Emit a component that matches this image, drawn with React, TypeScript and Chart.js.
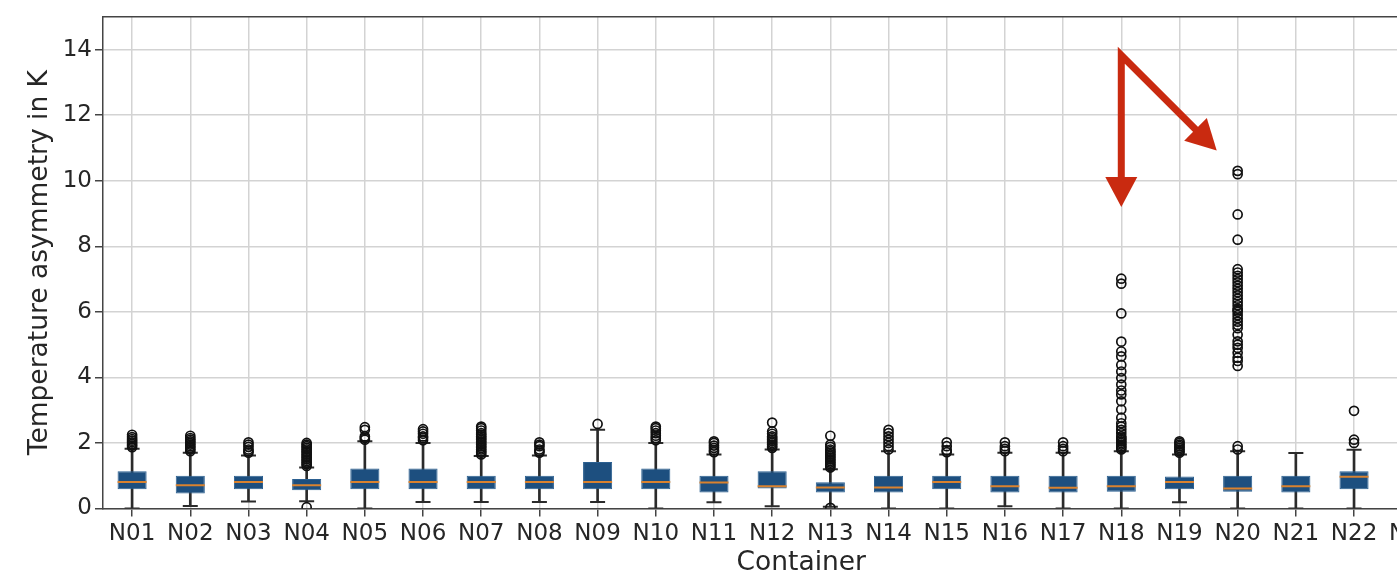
import React, { useEffect, useRef } from 'react';
import { Chart, registerables } from 'chart.js';

Chart.register(...registerables);

// ---------- data ----------
const categories = [
  'N01', 'N02', 'N03', 'N04', 'N05', 'N06', 'N07', 'N08', 'N09', 'N10', 'N11', 'N12',
  'N13', 'N14', 'N15', 'N16', 'N17', 'N18', 'N19', 'N20', 'N21', 'N22', 'N23', 'N24',
];

const q1Values = [0.59, 0.46, 0.59, 0.56, 0.59, 0.59, 0.59, 0.59, 0.59, 0.59, 0.49, 0.61,
  0.49, 0.49, 0.59, 0.49, 0.49, 0.51, 0.59, 0.51, 0.49, 0.59, 0.6, 0.55];
const medianValues = [0.81, 0.71, 0.81, 0.71, 0.81, 0.81, 0.81, 0.81, 0.81, 0.81, 0.79, 0.68,
  0.64, 0.64, 0.81, 0.68, 0.63, 0.68, 0.81, 0.61, 0.68, 0.97, 0.8, 0.72];
const q3Values = [1.14, 1.0, 1.0, 0.9, 1.22, 1.22, 1.0, 1.0, 1.42, 1.22, 1.0, 1.14,
  0.8, 1.0, 1.0, 1.0, 1.0, 1.0, 0.98, 1.0, 1.0, 1.14, 1.05, 1.0];
const whiskerLowValues = [0.0, 0.08, 0.21, 0.22, 0.0, 0.2, 0.2, 0.2, 0.2, 0.0, 0.19, 0.07,
  0.05, 0.0, 0.0, 0.07, 0.0, 0.0, 0.19, 0.0, 0.0, 0.0, 0.0, 0.0];
const whiskerHighValues = [1.82, 1.7, 1.62, 1.25, 2.05, 2.0, 1.6, 1.62, 2.4, 2.0, 1.65, 1.8,
  1.2, 1.75, 1.65, 1.7, 1.7, 1.75, 1.65, 1.75, 1.69, 1.79, 1.7, 1.65];

const outliersN01 = [1.87, 1.92, 1.97, 2.02, 2.07, 2.12, 2.18, 2.25];
const outliersN02 = [1.75, 1.8, 1.85, 1.9, 1.95, 2.0, 2.05, 2.1, 2.15, 2.22];
const outliersN03 = [1.7, 1.75, 1.8, 1.88, 1.95, 2.02];
const outliersN04 = [0.04, 1.3, 1.35, 1.4, 1.45, 1.5, 1.55, 1.6, 1.65, 1.7, 1.75, 1.8, 1.85, 1.9, 1.95, 2.0];
const outliersN05 = [2.1, 2.15, 2.2, 2.4, 2.48];
const outliersN06 = [2.08, 2.15, 2.2, 2.28, 2.35, 2.42];
const outliersN07 = [1.65, 1.7, 1.75, 1.8, 1.85, 1.9, 1.95, 2.0, 2.05, 2.1, 2.15, 2.2, 2.25, 2.3, 2.38, 2.45, 2.5];
const outliersN08 = [1.7, 1.75, 1.8, 1.9, 1.95, 2.02];
const outliersN09 = [2.58];
const outliersN10 = [2.08, 2.15, 2.22, 2.3, 2.38, 2.45, 2.5];
const outliersN11 = [1.72, 1.78, 1.85, 1.92, 2.0, 2.05];
const outliersN12 = [1.85, 1.9, 1.95, 2.0, 2.05, 2.1, 2.15, 2.2, 2.28, 2.35, 2.62];
const outliersN13 = [0.02, 1.25, 1.3, 1.35, 1.4, 1.45, 1.5, 1.55, 1.6, 1.65, 1.7, 1.75, 1.8, 1.88, 1.95, 2.22];
const outliersN14 = [1.8, 1.9, 2.0, 2.1, 2.2, 2.3, 2.4];
const outliersN15 = [1.72, 1.78, 1.9, 2.02];
const outliersN16 = [1.75, 1.82, 1.9, 2.02];
const outliersN17 = [1.75, 1.82, 1.9, 2.02];
const outliersN18 = [1.8, 1.85, 1.9, 1.95, 2.0, 2.05, 2.1, 2.15, 2.2, 2.3, 2.4, 2.5, 2.6, 2.77,
  3.02, 3.27, 3.48, 3.6, 3.78, 3.98, 4.18, 4.38, 4.64, 4.79, 5.09, 5.95, 6.86, 7.01];
const outliersN19 = [1.7, 1.75, 1.8, 1.85, 1.9, 1.95, 2.0, 2.05];
const outliersN20 = [1.8, 1.9, 4.35, 4.5, 4.6, 4.75, 4.9, 5.0, 5.1, 5.3, 5.5, 5.6, 5.7, 5.8, 5.9,
  6.0, 6.05, 6.1, 6.2, 6.3, 6.4, 6.5, 6.6, 6.7, 6.8, 6.9, 7.0, 7.1, 7.2, 7.3, 8.2, 8.97, 10.2, 10.3];
const outliersN21: number[] = [];
const outliersN22 = [2.0, 2.1, 2.98];
const outliersN23: number[] = [];
const outliersN24: number[] = [];

const outlierValues = [
  outliersN01, outliersN02, outliersN03, outliersN04, outliersN05, outliersN06, outliersN07,
  outliersN08, outliersN09, outliersN10, outliersN11, outliersN12, outliersN13, outliersN14,
  outliersN15, outliersN16, outliersN17, outliersN18, outliersN19, outliersN20, outliersN21,
  outliersN22, outliersN23, outliersN24,
];

// red annotation arrows (data coordinates: category index, value)
const arrowOrigin = [17, 13.83];
const arrowTargetX = [17, 18.64];
const arrowTargetY = [9.2, 10.92];

const yMin = 0;
const yMax = 15;
const yStep = 2;

// ---------- styles ----------
const TEXT = '#262626';
const AXIS = '#444444';
const GRID = '#d3d3d3';
const BOX_FILL = '#1d4f7f';
const BOX_EDGE = '#2c6091';
const MEDIAN = '#d9822f';
const WHISKER = '#2b2b2b';
const ARROW = '#c92a10';

const framePlugin = {
  id: 'frameAndArrows',
  afterDatasetsDraw(chart: any) {
    const { ctx, chartArea, scales } = chart;
    const x = scales.x;
    const y = scales.y;
    ctx.save();
    // top spine
    ctx.strokeStyle = AXIS;
    ctx.lineWidth = 1.5;
    ctx.beginPath();
    ctx.moveTo(chartArea.left, chartArea.top);
    ctx.lineTo(chartArea.right, chartArea.top);
    ctx.stroke();

    // arrows
    const sx = x.getPixelForValue(arrowOrigin[0]);
    const sy = y.getPixelForValue(arrowOrigin[1]);
    const headLen = 30;
    const headHalf = 16;
    const bases: number[][] = [];
    const heads: number[][][] = [];
    for (let i = 0; i < arrowTargetX.length; i++) {
      const tx = x.getPixelForValue(arrowTargetX[i]);
      const ty = y.getPixelForValue(arrowTargetY[i]);
      const dx = tx - sx;
      const dy = ty - sy;
      const len = Math.hypot(dx, dy);
      const ux = dx / len;
      const uy = dy / len;
      const bx = tx - ux * headLen;
      const by = ty - uy * headLen;
      bases.push([bx + ux * 2, by + uy * 2]);
      heads.push([
        [tx, ty],
        [bx - uy * headHalf, by + ux * headHalf],
        [bx + uy * headHalf, by - ux * headHalf],
      ]);
    }
    ctx.strokeStyle = ARROW;
    ctx.fillStyle = ARROW;
    ctx.lineWidth = 7;
    ctx.lineJoin = 'miter';
    ctx.lineCap = 'butt';
    ctx.beginPath();
    ctx.moveTo(bases[0][0], bases[0][1]);
    ctx.lineTo(sx, sy);
    ctx.lineTo(bases[1][0], bases[1][1]);
    ctx.stroke();
    for (const h of heads) {
      ctx.beginPath();
      ctx.moveTo(h[0][0], h[0][1]);
      ctx.lineTo(h[1][0], h[1][1]);
      ctx.lineTo(h[2][0], h[2][1]);
      ctx.closePath();
      ctx.fill();
    }
    ctx.restore();
  },
};

export default function App() {
  const canvasRef = useRef<HTMLCanvasElement | null>(null);

  useEffect(() => {
    if (!canvasRef.current) return;
    Chart.defaults.font.family = "'DejaVu Sans', sans-serif";

    const outlierPoints = categories.flatMap((c, i) =>
      outlierValues[i].map((v) => ({ x: c, y: v }))
    );

    const chart = new Chart(canvasRef.current, {
      type: 'bar',
      data: {
        labels: categories,
        datasets: [
          {
            type: 'bar',
            label: 'whiskers',
            data: categories.map((_, i) => [whiskerLowValues[i], whiskerHighValues[i]]),
            backgroundColor: WHISKER,
            borderWidth: 0,
            barThickness: 2,
            grouped: false,
            order: 5,
          } as any,
          {
            type: 'bar',
            label: 'boxes',
            data: categories.map((_, i) => [q1Values[i], q3Values[i]]),
            backgroundColor: BOX_FILL,
            borderColor: BOX_EDGE,
            borderWidth: 1,
            borderSkipped: false,
            barPercentage: 0.5,
            categoryPercentage: 1.0,
            grouped: false,
            order: 4,
          } as any,
          {
            type: 'line',
            label: 'capsLow',
            data: whiskerLowValues,
            showLine: false,
            pointStyle: 'line',
            pointRadius: 7.5,
            pointHoverRadius: 7.5,
            pointBorderColor: WHISKER,
            pointBorderWidth: 2,
            order: 3,
          } as any,
          {
            type: 'line',
            label: 'capsHigh',
            data: whiskerHighValues,
            showLine: false,
            pointStyle: 'line',
            pointRadius: 7.5,
            pointHoverRadius: 7.5,
            pointBorderColor: WHISKER,
            pointBorderWidth: 2,
            order: 3,
          } as any,
          {
            type: 'line',
            label: 'medians',
            data: medianValues,
            showLine: false,
            pointStyle: 'line',
            pointRadius: 14.5,
            pointHoverRadius: 14.5,
            pointBorderColor: MEDIAN,
            pointBorderWidth: 2,
            order: 2,
          } as any,
          {
            type: 'line',
            label: 'outliers',
            data: outlierPoints,
            showLine: false,
            pointStyle: 'circle',
            pointRadius: 4.5,
            pointHoverRadius: 4.5,
            pointBorderColor: '#111111',
            pointBackgroundColor: 'rgba(0,0,0,0)',
            pointBorderWidth: 1.7,
            order: 1,
          } as any,
        ],
      },
      options: {
        animation: false,
        responsive: true,
        maintainAspectRatio: false,
        layout: { padding: { top: 13.5, left: 0, right: 0, bottom: 0 } },
        plugins: {
          legend: { display: false },
          tooltip: { enabled: false },
        },
        scales: {
          x: {
            type: 'category',
            offset: true,
            grid: {
              offset: false,
              color: GRID,
              lineWidth: 1.5,
              drawTicks: true,
              tickLength: 8,
              tickColor: AXIS,
              tickWidth: 1.5,
            },
            border: { display: true, color: AXIS, width: 1.5 },
            ticks: {
              autoSkip: false,
              maxRotation: 0,
              minRotation: 0,
              padding: 4,
              color: TEXT,
              font: { size: 23 },
            },
            title: {
              display: true,
              text: 'Container',
              color: TEXT,
              font: { size: 26.5, lineHeight: 1.0 },
              padding: { top: 0, bottom: 0 },
            },
            afterFit: (s: any) => {
              s.height = 67.5;
              s.paddingLeft = 0;
              s.paddingRight = 0;
            },
          },
          y: {
            type: 'linear',
            min: yMin,
            max: yMax,
            grid: {
              color: GRID,
              lineWidth: 1.5,
              drawTicks: true,
              tickLength: 8,
              tickColor: AXIS,
              tickWidth: 1.5,
            },
            border: { display: true, color: AXIS, width: 1.5 },
            ticks: {
              stepSize: yStep,
              includeBounds: false,
              padding: 3,
              color: TEXT,
              font: { size: 23 },
            },
            title: {
              display: true,
              text: 'Temperature asymmetry in K',
              color: TEXT,
              font: { size: 26.5 },
              padding: { top: 24, bottom: 0 },
            },
            afterFit: (s: any) => {
              s.width = 103;
            },
          },
        },
      } as any,
      plugins: [framePlugin],
    });

    return () => chart.destroy();
  }, []);

  return (
    <div
      style={{
        position: 'absolute',
        left: 0,
        top: 0,
        width: 1397,
        height: 576,
        overflow: 'hidden',
        background: '#ffffff',
      }}
    >
      <div style={{ position: 'relative', width: 1516, height: 576 }}>
        <canvas ref={canvasRef} />
      </div>
    </div>
  );
}
